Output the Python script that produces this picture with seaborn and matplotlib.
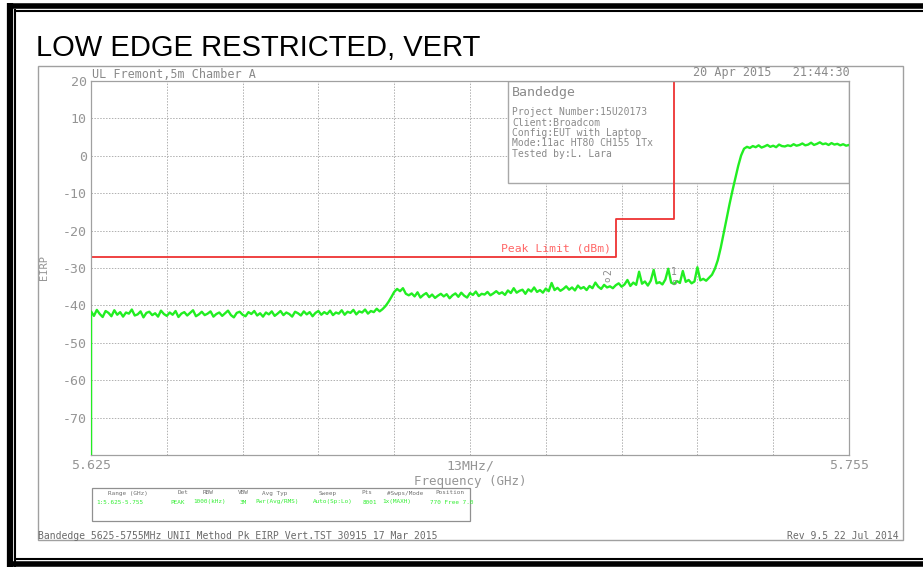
import numpy as np
import pandas as pd
import seaborn as sb
import matplotlib
matplotlib.use("Agg")
import matplotlib.pyplot as plt
from matplotlib.patches import Rectangle
from matplotlib.lines import Line2D

# trace data (0.5 MHz step)
start_ghz = 5.625
stop_ghz = 5.755
step_ghz = 0.0005
eirp = [
    -41.6, -42.8, -41.2, -42.3, -43.1, -41.5, -42.0, -42.9, -41.3, -42.5, -41.8, -43.0, -41.9, -42.2, -41.1, -42.7, -42.4, -41.6, -43.2, -42.0,
    -41.7, -42.6, -42.1, -43.0, -41.4, -42.3, -42.8, -41.9, -42.5, -41.5, -43.1, -42.2, -41.8, -42.7, -42.0, -41.3, -42.9, -42.4, -41.7, -42.6,
    -42.2, -41.6, -43.0, -42.3, -41.9, -42.8, -42.1, -41.4, -42.6, -43.2, -42.0, -41.7, -42.5, -42.9, -41.8, -42.3, -41.5, -42.7, -42.1, -43.0,
    -41.9, -42.4, -41.6, -42.8, -42.2, -41.5, -42.6, -41.9, -42.3, -43.0, -41.7, -42.1, -42.7, -41.6, -42.4, -41.8, -42.9, -42.0, -41.5, -42.5,
    -41.8, -42.3, -41.4, -42.6, -41.9, -42.2, -41.3, -42.5, -41.7, -42.0, -41.2, -42.4, -41.6, -41.9, -41.1, -42.2, -41.5, -41.8, -40.9, -41.6,
    -41.0, -40.2, -39.1, -37.8, -36.4, -35.6, -36.2, -35.4, -36.9, -37.3, -36.8, -37.6, -36.5, -37.9, -37.2, -36.7, -37.8, -37.1, -38.0, -37.4,
    -36.9, -37.6, -37.0, -38.1, -37.3, -36.8, -37.7, -36.6, -37.4, -37.9, -36.7, -37.2, -36.3, -37.5, -36.9, -37.1, -36.4, -37.3, -36.8, -36.2,
    -36.9, -36.5, -37.2, -36.0, -36.7, -35.4, -36.6, -36.1, -35.8, -36.9, -35.7, -36.3, -35.2, -36.4, -35.9, -36.6, -35.5, -36.2, -34.0, -35.9,
    -35.3, -36.1, -35.6, -34.9, -35.8, -35.2, -36.0, -34.7, -35.5, -35.1, -35.9, -34.8, -35.4, -33.9, -35.0, -35.6, -34.5, -35.2, -34.9, -35.4,
    -34.6, -34.1, -35.0, -34.4, -33.2, -34.8, -33.9, -34.5, -31.0, -34.2, -33.6, -34.7, -33.4, -30.5, -34.1, -33.8, -34.4, -33.1, -30.2, -33.9,
    -34.3, -33.5, -34.0, -30.8, -33.7, -33.2, -34.1, -33.6, -29.8, -33.3, -32.9, -33.4, -32.6, -31.8, -30.2, -27.9, -24.6, -20.8, -16.9, -13.0,
    -9.4, -6.0, -2.7, 0.1, 1.9, 2.4, 2.1, 2.6, 2.3, 2.8, 2.2, 2.5, 2.9, 2.4, 2.7, 2.3, 3.0, 2.6, 2.5, 2.8,
    2.6, 3.1, 2.7, 2.9, 3.3, 2.8, 3.0, 3.5, 2.9, 3.2, 3.6, 3.1, 3.3, 2.9, 3.4, 3.0, 3.2, 2.8, 3.1, 2.7,
    2.9,
]
freq = [start_ghz + i * step_ghz for i in range(len(eirp))]

# peak limit line (dBm)
limit_freq = [5.625, 5.715, 5.715, 5.725, 5.725]
limit_level = [-27, -27, -17, -17, 27]

# markers
marker_names = ["1", "2"]
marker_freq = [5.725, 5.7137]
marker_level = [-32.3, -32.0]

y_ticks = [20, 10, 0, -10, -20, -30, -40, -50, -60, -70, -80]
y_labels = ["20", "10", "0", "-10", "-20", "-30", "-40", "-50", "-60", "-70", ""]
x_labels = ["5.625", "", "", "", "", "13MHz/", "", "", "", "", "5.755"]

info_lines = ["Project Number:15U20173", "Client:Broadcom", "Config:EUT with Laptop",
              "Mode:11ac HT80 CH155 1Tx", "Tested by:L. Lara"]
table_heads = ["Range (GHz)", "Det", "RBW", "VBW", "Avg Typ", "Sweep", "Pts", "#Swps/Mode", "Position"]
table_vals = ["1:5.625-5.755", "PEAK", "1000(kHz)", "3M", "Pwr(Avg/RMS)", "Auto(Sp:Lo)", "8001", "1x(MAXH)", "770 Free 7.0"]

sb.set_theme(style="white")
plt.rcParams["font.family"] = ["DejaVu Sans Mono"]

W, H = 923, 567
fig = plt.figure(figsize=(W / 100, H / 100), dpi=100)


def fx(px):
    return px / W


def fy(py):
    return 1 - py / H


ax = fig.add_axes([fx(91), fy(455), fx(849) - fx(91), fy(81) - fy(455)])

df = pd.DataFrame({"freq": freq, "eirp": eirp})
ax.vlines(freq[0], -80, eirp[0], color="#22ee22", lw=1.0, zorder=3)
sb.lineplot(data=df, x="freq", y="eirp", ax=ax, color="#22ee22", lw=1.7,
            estimator=None, zorder=3)
ax.plot(limit_freq, limit_level, color="#ee3333", lw=1.3, zorder=2.5)

ax.set_xlim(start_ghz, stop_ghz)
ax.set_ylim(-80, 20)
ax.set_xticks(np.linspace(start_ghz, stop_ghz, 11))
ax.set_xticklabels(x_labels)
ax.set_yticks(y_ticks)
ax.set_yticklabels(y_labels)
ax.tick_params(length=0, labelsize=9.5, colors="#959595", pad=3)
ax.grid(True, color="#b0b0b0", ls=(0, (1.5, 1.5)), lw=0.7)
ax.set_axisbelow(True)
for s in ax.spines.values():
    s.set_color("#a0a0a0")
    s.set_linewidth(0.9)
ax.set_xlabel("Frequency (GHz)", fontsize=9, color="#959595", labelpad=2)
ax.set_ylabel("EIRP", fontsize=7.5, color="#959595", labelpad=10)

# info box on top of the grid
ax.add_patch(Rectangle((0.55, 0.727), 0.45, 0.273, transform=ax.transAxes,
                       facecolor="white", edgecolor="#a8a8a8", lw=1.0, zorder=1))
fig.text(fx(512), fy(93), "Bandedge", fontsize=9.5, color="#8a8a8a", va="center")
for i, line in enumerate(info_lines):
    fig.text(fx(512), fy(112 + i * 10.5), line, fontsize=7, color="#8a8a8a", va="center")

ax.text(5.7142, -26.0, "Peak Limit (dBm)", color="#ff6666", fontsize=8.2,
        ha="right", va="bottom")

for name, f, lvl in zip(marker_names, marker_freq, marker_level):
    rot = 90 if name == "2" else 0
    ax.text(f, lvl, name, fontsize=7, color="#8a8a8a", ha="center", va="bottom",
            rotation=rot, zorder=4)
    ax.text(f, lvl - 0.3, "o", fontsize=6.5, color="#8a8a8a", ha="center", va="top",
            rotation=rot, zorder=4)

# header / footer text
fig.text(fx(36), fy(48), "LOW EDGE RESTRICTED, VERT", fontsize=21,
         family="Liberation Sans", color="black", va="center")
fig.text(fx(92), fy(74), "UL Fremont,5m Chamber A", fontsize=8.5, color="#8a8a8a", va="center")
fig.text(fx(850), fy(73), "20 Apr 2015   21:44:30", fontsize=8.5, color="#8a8a8a",
         va="center", ha="right")
fig.text(fx(38), fy(536), "Bandedge 5625-5755MHz UNII Method Pk EIRP Vert.TST 30915 17 Mar 2015",
         fontsize=7, color="#6a6a6a", va="center")
fig.text(fx(899), fy(536), "Rev 9.5 22 Jul 2014", fontsize=7, color="#6a6a6a",
         va="center", ha="right")

# settings table
fig.add_artist(Rectangle((fx(92), fy(521)), fx(470) - fx(92), fy(488) - fy(521),
                         transform=fig.transFigure, facecolor="none",
                         edgecolor="#909090", lw=0.9))
head_x = [128, 183, 208, 243, 275, 328, 367, 405, 450]
val_x = [120, 178, 210, 243, 277, 333, 370, 397, 452]
for h, hx, v, vx in zip(table_heads, head_x, table_vals, val_x):
    fig.text(fx(hx), fy(493), h, fontsize=4.3, color="#707070", ha="center", va="center")
    fig.text(fx(vx), fy(502), v, fontsize=4.3, color="#33ee33", ha="center", va="center")

# frames
fig.add_artist(Rectangle((fx(38), fy(540)), fx(903) - fx(38), fy(66) - fy(540),
                         transform=fig.transFigure, facecolor="none",
                         edgecolor="#a0a0a0", lw=1.0))
frame = [
    ((7, 923), (5.5, 5.5), 4.0),
    ((14, 923), (11, 11), 1.5),
    ((10, 10), (3, 567), 4.5),
    ((15, 15), (9, 567), 1.5),
    ((7, 923), (564, 564), 4.0),
    ((15, 923), (559, 559), 1.5),
]
for xs, ys, lw in frame:
    fig.add_artist(Line2D([fx(xs[0]), fx(xs[1])], [fy(ys[0]), fy(ys[1])],
                          transform=fig.transFigure, color="black", lw=lw,
                          solid_capstyle="butt"))

fig.savefig("out.png", dpi=100)
